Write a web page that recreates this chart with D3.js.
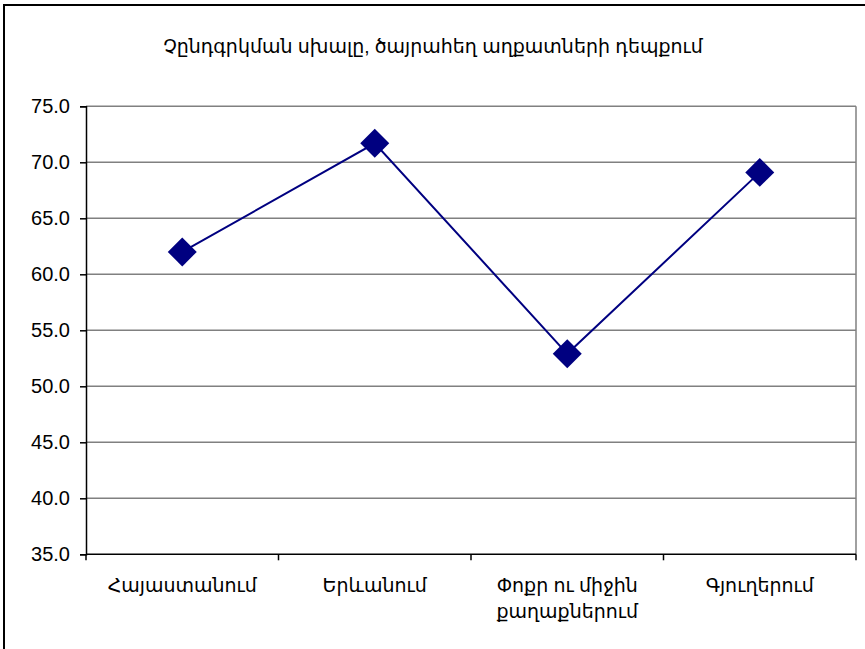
<!DOCTYPE html>
<html>
<head>
<meta charset="utf-8">
<script src="https://cdn.jsdelivr.net/npm/d3@7"></script>
<style>
  html, body { margin: 0; padding: 0; background: #fff; }
  svg { display: block; }
  text { font-family: "Liberation Sans", Arial, "DejaVu Sans", sans-serif; fill: #000; }
</style>
</head>
<body>
<svg id="chart" width="865" height="649"></svg>
<script>
// Exclusion error for the extremely poor, by settlement type
const title = "Չընդգրկման սխալը, ծայրահեղ աղքատների դեպքում";
const categories = [
  ["Հայաստանում"],
  ["Երևանում"],
  ["Փոքր ու միջին", "քաղաքներում"],
  ["Գյուղերում"]
];
const values = [62.0, 71.7, 52.9, 69.1];
const yTicks = [35, 40, 45, 50, 55, 60, 65, 70, 75];

const svg = d3.select("#chart");
const W = 865, H = 649;
const plot = { left: 86, right: 856, top: 106.3, bottom: 554.3 };

// outer chart frame (right and bottom edges fall outside the canvas)
svg.append("rect")
  .attr("x", 4).attr("y", 5)
  .attr("width", W + 10).attr("height", H + 10)
  .attr("fill", "#fff").attr("stroke", "#000").attr("stroke-width", 2);

svg.append("text")
  .attr("x", 433).attr("y", 53)
  .attr("text-anchor", "middle")
  .attr("font-size", 19)
  .text(title);

const x = d3.scaleBand()
  .domain(d3.range(categories.length))
  .range([plot.left, plot.right])
  .padding(0);

const y = d3.scaleLinear()
  .domain([35, 75])
  .range([plot.bottom, plot.top]);

// horizontal gridlines
svg.append("g")
  .selectAll("line")
  .data(yTicks.filter(t => t > 35))
  .join("line")
  .attr("x1", plot.left).attr("x2", plot.right)
  .attr("y1", d => y(d)).attr("y2", d => y(d))
  .attr("stroke", "#808080").attr("stroke-width", 1.5);

// right border of the plot area
svg.append("line")
  .attr("x1", plot.right).attr("x2", plot.right)
  .attr("y1", plot.top).attr("y2", plot.bottom)
  .attr("stroke", "#808080").attr("stroke-width", 1.5);

// y axis
const yAxis = svg.append("g")
  .attr("transform", `translate(${plot.left},0)`)
  .call(d3.axisLeft(y).tickValues(yTicks).tickSize(6).tickPadding(10)
    .tickFormat(d3.format(".1f")));
yAxis.select(".domain").attr("stroke", "#000").attr("stroke-width", 1.5);
yAxis.selectAll(".tick line").attr("stroke", "#000").attr("stroke-width", 1.5);
yAxis.selectAll(".tick text")
  .attr("font-size", 20)
  .attr("font-family", "'Liberation Sans', Arial, sans-serif")
  .attr("fill", "#000");

// x axis: tick marks on category boundaries
const xAxisG = svg.append("g");
xAxisG.append("line")
  .attr("x1", plot.left).attr("x2", plot.right)
  .attr("y1", plot.bottom).attr("y2", plot.bottom)
  .attr("stroke", "#000").attr("stroke-width", 1.5);
const bounds = d3.range(categories.length + 1).map(i =>
  i < categories.length ? x(i) : x(categories.length - 1) + x.bandwidth());
xAxisG.selectAll("line.tk")
  .data(bounds)
  .join("line")
  .attr("class", "tk")
  .attr("x1", d => d).attr("x2", d => d)
  .attr("y1", plot.bottom).attr("y2", plot.bottom + 6)
  .attr("stroke", "#000").attr("stroke-width", 1.5);

// category labels
const labels = xAxisG.selectAll("text.cat")
  .data(categories)
  .join("text")
  .attr("class", "cat")
  .attr("text-anchor", "middle")
  .attr("font-size", 19)
  .attr("x", (d, i) => x(i) + x.bandwidth() / 2)
  .attr("y", 592);
labels.selectAll("tspan")
  .data(d => d)
  .join("tspan")
  .attr("x", function() { return d3.select(this.parentNode).attr("x"); })
  .attr("dy", (d, i) => i === 0 ? 0 : 26)
  .text(d => d);

// series line
const cx = (d, i) => x(i) + x.bandwidth() / 2;
const line = d3.line().x(cx).y(d => y(d));
svg.append("path")
  .datum(values)
  .attr("d", line)
  .attr("fill", "none")
  .attr("stroke", "#000080")
  .attr("stroke-width", 2);

// diamond markers
const diamond = d3.symbol().type(d3.symbolSquare).size(420);
svg.append("g")
  .selectAll("path")
  .data(values)
  .join("path")
  .attr("d", diamond)
  .attr("transform", (d, i) => `translate(${cx(d, i)},${y(d)}) rotate(45)`)
  .attr("fill", "#000080");
</script>
</body>
</html>
